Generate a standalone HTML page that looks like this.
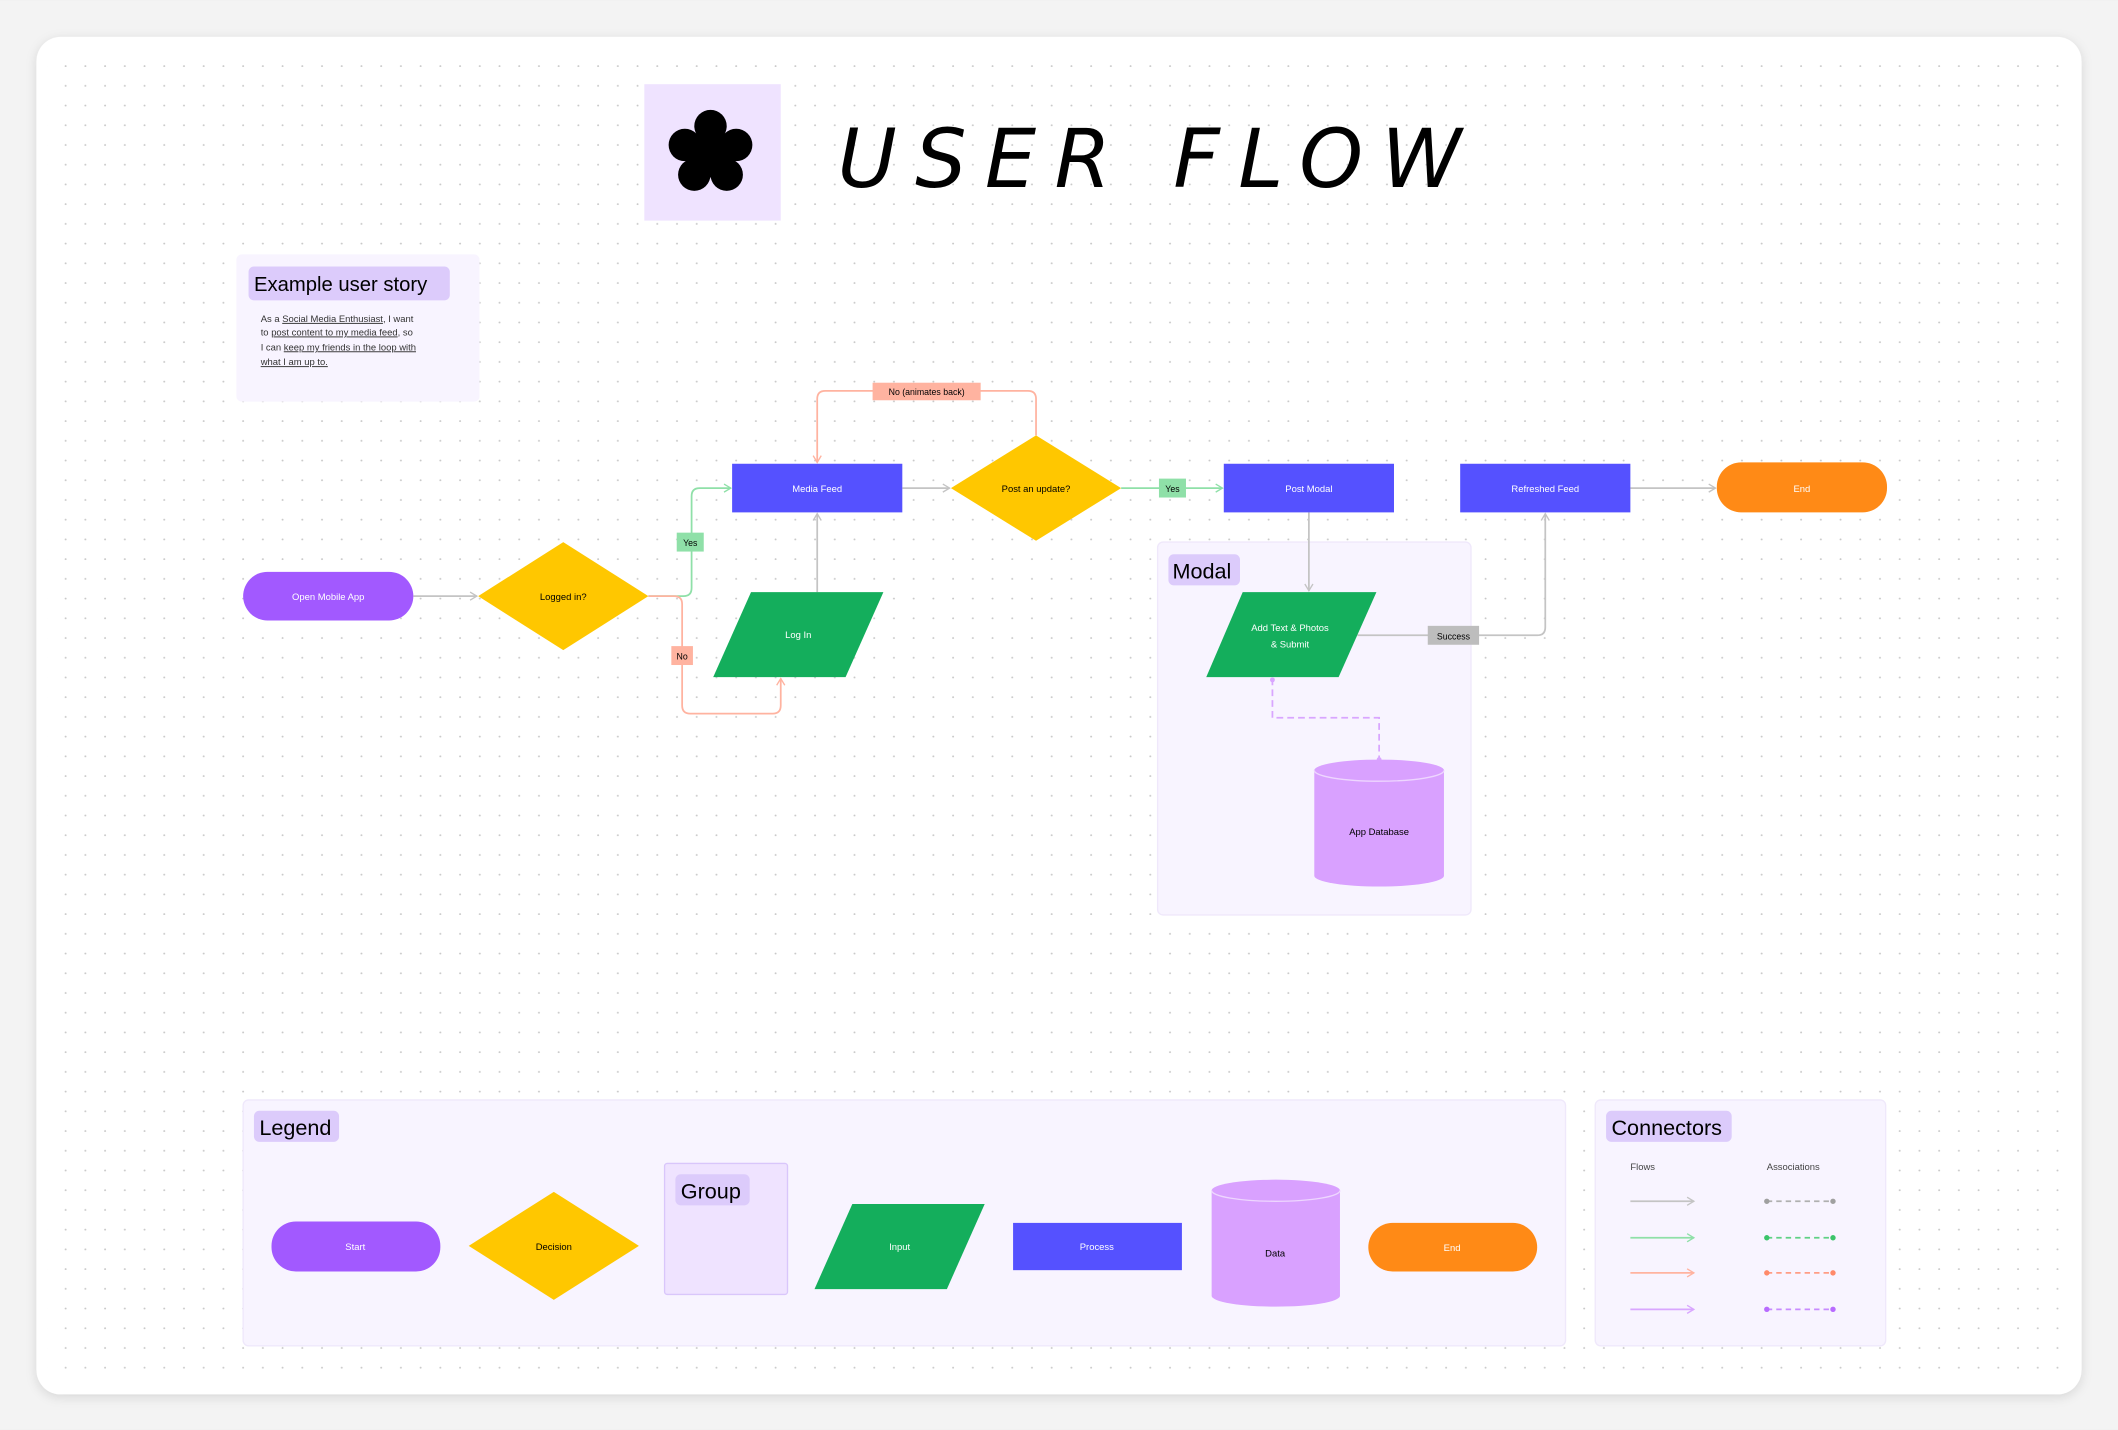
<!DOCTYPE html>
<html><head><meta charset="utf-8"><style>
html,body{margin:0;padding:0;background:#efefef;}
svg{display:block;}
text{font-family:"Liberation Sans",sans-serif;}
</style></head><body>
<svg width="2118" height="1430" viewBox="0 0 1568 1058" xmlns="http://www.w3.org/2000/svg">
<defs>
<pattern id="dots" x="27" y="27" width="14.6" height="14.6" patternUnits="userSpaceOnUse">
<circle cx="7" cy="7" r="0.7" fill="#c8c8c8"/></pattern>
<filter id="sh" x="-5%" y="-5%" width="110%" height="110%"><feDropShadow dx="0" dy="2" stdDeviation="4" flood-color="#000" flood-opacity="0.12"/></filter>
<marker id="ag" markerWidth="8" markerHeight="8" refX="6" refY="4" orient="auto" markerUnits="userSpaceOnUse"><path d="M1,1 L6,4 L1,7" fill="none" stroke="#c4c4c4" stroke-width="1"/></marker>
<marker id="agr" markerWidth="8" markerHeight="8" refX="6" refY="4" orient="auto" markerUnits="userSpaceOnUse"><path d="M1,1 L6,4 L1,7" fill="none" stroke="#8fe0a8" stroke-width="1"/></marker>
<marker id="ars" markerWidth="8" markerHeight="8" refX="6" refY="4" orient="auto" markerUnits="userSpaceOnUse"><path d="M1,1 L6,4 L1,7" fill="none" stroke="#ffb3a0" stroke-width="1"/></marker>
<marker id="apu" markerWidth="8" markerHeight="8" refX="6" refY="4" orient="auto" markerUnits="userSpaceOnUse"><path d="M1,1 L6,4 L1,7" fill="none" stroke="#d9a6ff" stroke-width="1"/></marker>
</defs>
<rect x="0" y="0" width="1568" height="1058" fill="#f3f3f3"/>
<rect x="27" y="27" width="1514" height="1005" rx="18" fill="#fff" filter="url(#sh)"/>
<rect x="35" y="35" width="1498" height="990" fill="url(#dots)"/>

<!-- title -->
<rect x="477" y="62" width="101" height="101" fill="#efe3ff"/>
<g transform="translate(526,113)" fill="#000">
<circle r="18"/>
<circle cx="0" cy="-20" r="12"/><circle cx="19" cy="-6" r="12"/><circle cx="12" cy="16" r="12"/><circle cx="-12" cy="16" r="12"/><circle cx="-19" cy="-6" r="12"/>
</g>
<text x="620" y="138" font-size="60" font-style="italic" textLength="462" lengthAdjust="spacing" fill="#000" style="font-family:'DejaVu Sans','Liberation Sans',sans-serif;font-weight:300">USER FLOW</text>

<!-- user story -->
<rect x="175" y="188" width="180" height="109" rx="4" fill="#f8f4ff"/>
<rect x="184" y="197" width="149" height="25" rx="4" fill="#dccbfb"/>
<text x="188" y="215" font-size="15" fill="#000">Example user story</text>
<g font-size="7" fill="#333">
<text x="193" y="238">As a <tspan text-decoration="underline">Social Media Enthusiast</tspan>, I want</text>
<text x="193" y="248">to <tspan text-decoration="underline">post content to my media feed</tspan>, so</text>
<text x="193" y="259">I can <tspan text-decoration="underline">keep my friends in the loop with</tspan></text>
<text x="193" y="270" text-decoration="underline">what I am up to.</text>
</g>

<!-- modal group -->
<rect x="857" y="401" width="232" height="276" rx="4" fill="#f8f4ff" stroke="#efe8fb"/>
<rect x="865" y="410" width="53" height="23" rx="4" fill="#dccbfb"/>
<text x="868" y="428" font-size="16" fill="#000">Modal</text>

<!-- connectors -->
<g fill="none" stroke-width="1.3">
<path d="M306,441 H353" stroke="#c4c4c4" marker-end="url(#ag)"/>
<path d="M480,441 H506 Q512,441 512,435 V367 Q512,361 518,361 H541" stroke="#8fe0a8" marker-end="url(#agr)"/>
<path d="M480,441 H499 Q505,441 505,447 V522 Q505,528 511,528 H572 Q578,528 578,522 V502" stroke="#ffb3a0" marker-end="url(#ars)"/>
<path d="M605,438 V380" stroke="#c4c4c4" marker-end="url(#ag)"/>
<path d="M668,361 H703" stroke="#c4c4c4" marker-end="url(#ag)"/>
<path d="M767,322 V295 Q767,289 761,289 H611 Q605,289 605,295 V342" stroke="#ffb3a0" marker-end="url(#ars)"/>
<path d="M830,361 H905" stroke="#8fe0a8" marker-end="url(#agr)"/>
<path d="M969,379 V437" stroke="#c4c4c4" marker-end="url(#ag)"/>
<path d="M1005,470 H1138 Q1144,470 1144,464 V380" stroke="#c4c4c4" marker-end="url(#ag)"/>
<path d="M1207,361 H1270" stroke="#c4c4c4" marker-end="url(#ag)"/>
<path d="M942,502 V531 H1021 V562" stroke="#d9a6ff" stroke-dasharray="5,3"/>
</g>
<circle cx="942" cy="503" r="1.8" fill="#d9a6ff"/><circle cx="1021" cy="562" r="1.8" fill="#d9a6ff"/>

<!-- labels on connectors -->
<rect x="501" y="394" width="20" height="14" fill="#8fe0a8"/><text x="511" y="404" font-size="6.5" text-anchor="middle">Yes</text>
<rect x="497" y="478" width="16" height="14" fill="#ffb3a0"/><text x="505" y="488" font-size="6.5" text-anchor="middle">No</text>
<rect x="646" y="283" width="80" height="13" fill="#ffb3a0"/><text x="686" y="292" font-size="6.5" text-anchor="middle">No (animates back)</text>
<rect x="858" y="354" width="20" height="14" fill="#8fe0a8"/><text x="868" y="364" font-size="6.5" text-anchor="middle">Yes</text>
<rect x="1057" y="463" width="38" height="14" fill="#bdbdbd"/><text x="1076" y="473" font-size="6.5" text-anchor="middle">Success</text>

<!-- nodes -->
<rect x="180" y="423" width="126" height="36" rx="18" fill="#a259ff"/>
<text x="243" y="444" font-size="7" fill="#fff" text-anchor="middle">Open Mobile App</text>
<polygon points="354,441 417,401 480,441 417,481" fill="#ffc700"/>
<text x="417" y="444" font-size="7" text-anchor="middle">Logged in?</text>
<rect x="542" y="343" width="126" height="36" fill="#5551ff"/>
<text x="605" y="364" font-size="7" fill="#fff" text-anchor="middle">Media Feed</text>
<polygon points="556,438 654,438 626,501 528,501" fill="#14ae5c"/>
<text x="591" y="472" font-size="7" fill="#fff" text-anchor="middle">Log In</text>
<polygon points="704,361 767,322 830,361 767,400" fill="#ffc700"/>
<text x="767" y="364" font-size="7" text-anchor="middle">Post an update?</text>
<rect x="906" y="343" width="126" height="36" fill="#5551ff"/>
<text x="969" y="364" font-size="7" fill="#fff" text-anchor="middle">Post Modal</text>
<rect x="1081" y="343" width="126" height="36" fill="#5551ff"/>
<text x="1144" y="364" font-size="7" fill="#fff" text-anchor="middle">Refreshed Feed</text>
<rect x="1271" y="342" width="126" height="37" rx="18" fill="#ff8a16"/>
<text x="1334" y="364" font-size="7" fill="#fff" text-anchor="middle">End</text>
<polygon points="920,438 1019,438 991,501 893,501" fill="#14ae5c"/>
<text x="955" y="467" font-size="7" fill="#fff" text-anchor="middle">Add Text &amp; Photos</text>
<text x="955" y="479" font-size="7" fill="#fff" text-anchor="middle">&amp; Submit</text>
<path d="M973,570 V648 A48,8 0 0 0 1069,648 V570 A48,8 0 0 0 973,570 Z" fill="#d9a1ff"/>
<path d="M973,570 A48,8 0 0 0 1069,570" fill="none" stroke="#eed6ff" stroke-width="1"/>
<text x="1021" y="618" font-size="7" text-anchor="middle">App Database</text>

<!-- Legend -->
<rect x="180" y="814" width="979" height="182" rx="4" fill="#f8f4ff" stroke="#efe8fb"/>
<rect x="188" y="822" width="63" height="23" rx="4" fill="#dccbfb"/>
<text x="192" y="840" font-size="16" fill="#000">Legend</text>
<rect x="201" y="904" width="125" height="37" rx="18" fill="#a259ff"/>
<text x="263" y="925" font-size="7" fill="#fff" text-anchor="middle">Start</text>
<polygon points="347,922 410,882 473,922 410,962" fill="#ffc700"/>
<text x="410" y="925" font-size="7" text-anchor="middle">Decision</text>
<rect x="492" y="861" width="91" height="97" rx="2" fill="#efe3ff" stroke="#d9c6fb"/>
<rect x="500" y="869" width="55" height="23" rx="4" fill="#dccbfb"/>
<text x="504" y="887" font-size="16" fill="#000">Group</text>
<polygon points="631,891 729,891 701,954 603,954" fill="#14ae5c"/>
<text x="666" y="925" font-size="7" fill="#fff" text-anchor="middle">Input</text>
<rect x="750" y="905" width="125" height="35" fill="#5551ff"/>
<text x="812" y="925" font-size="7" fill="#fff" text-anchor="middle">Process</text>
<path d="M897,881 V959 A47.5,8 0 0 0 992,959 V881 A47.5,8 0 0 0 897,881 Z" fill="#d9a1ff"/>
<path d="M897,881 A47.5,8 0 0 0 992,881" fill="none" stroke="#eed6ff"/>
<text x="944" y="930" font-size="7" text-anchor="middle">Data</text>
<rect x="1013" y="905" width="125" height="36" rx="18" fill="#ff8a16"/>
<text x="1075" y="926" font-size="7" fill="#fff" text-anchor="middle">End</text>

<!-- Connectors panel -->
<rect x="1181" y="814" width="215" height="182" rx="4" fill="#f8f4ff" stroke="#efe8fb"/>
<rect x="1189" y="822" width="93" height="23" rx="4" fill="#dccbfb"/>
<text x="1193" y="840" font-size="16" fill="#000">Connectors</text>
<text x="1207" y="866" font-size="7" fill="#444">Flows</text>
<text x="1308" y="866" font-size="7" fill="#444">Associations</text>
<g fill="none" stroke-width="1.3">
<path d="M1207,889 H1254" stroke="#c4c4c4" marker-end="url(#ag)"/>
<path d="M1207,916 H1254" stroke="#8fe0a8" marker-end="url(#agr)"/>
<path d="M1207,942 H1254" stroke="#ffb3a0" marker-end="url(#ars)"/>
<path d="M1207,969 H1254" stroke="#d9a6ff" marker-end="url(#apu)"/>
<path d="M1308,889 H1357" stroke="#b0b0b0" stroke-dasharray="4,3"/>
<path d="M1308,916 H1357" stroke="#5fd184" stroke-dasharray="4,3"/>
<path d="M1308,942 H1357" stroke="#ff9d85" stroke-dasharray="4,3"/>
<path d="M1308,969 H1357" stroke="#c88bff" stroke-dasharray="4,3"/>
</g>
<g>
<circle cx="1308" cy="889" r="2" fill="#a0a0a0"/><circle cx="1357" cy="889" r="2" fill="#a0a0a0"/>
<circle cx="1308" cy="916" r="2" fill="#3cc46a"/><circle cx="1357" cy="916" r="2" fill="#3cc46a"/>
<circle cx="1308" cy="942" r="2" fill="#ff8a6a"/><circle cx="1357" cy="942" r="2" fill="#ff8a6a"/>
<circle cx="1308" cy="969" r="2" fill="#b86bff"/><circle cx="1357" cy="969" r="2" fill="#b86bff"/>
</g>
</svg>
</body></html>
